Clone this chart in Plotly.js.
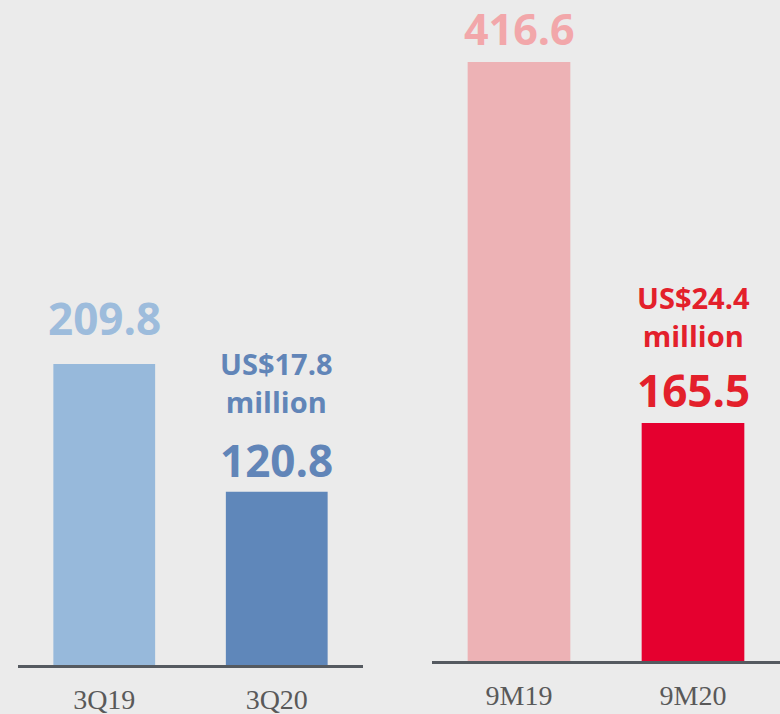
<!DOCTYPE html>
<html><head><meta charset="utf-8">
<script src="https://cdn.plot.ly/plotly-3.0.1.min.js"></script>
<style>body{margin:0;background:#ebebeb}#c{width:780px;height:714px}</style>
</head><body><div id="c"></div>
<script>
const quarterCats = ['3Q19', '3Q20'];
const quarterVals = [209.8, 120.8];
const nineMonthCats = ['9M19', '9M20'];
const nineMonthVals = [416.6, 165.5];
const usdNotes = ['US$17.8', 'US$24.4'];

const quarterBarColors = ['#97b9db', '#5f87ba'];
const quarterTextColors = ['#9dbcdc', '#6185b8'];
const nineBarColors = ['#edb2b5', '#e5002f'];
const nineTextColors = ['#f2a7aa', '#e3202b'];

const valFont = 'Open Sans, Noto Sans, sans-serif';

const traces = [
  {type:'bar', x:quarterCats, y:quarterVals, xaxis:'x', yaxis:'y',
   marker:{color:quarterBarColors}, width:0.59, hoverinfo:'none'},
  {type:'bar', x:nineMonthCats, y:nineMonthVals, xaxis:'x2', yaxis:'y2',
   marker:{color:nineBarColors}, width:0.59, hoverinfo:'none'}
];

function ann(xref, yref, x, y, text, size, color, shift){
  return {xref, yref, x, y, text, showarrow:false, yanchor:'middle', xanchor:'center',
    yshift:shift, font:{family:valFont, size, color, weight:700}};
}
const annotations = [
  ann('x','y',quarterCats[0],quarterVals[0],'<b>'+quarterVals[0].toFixed(1)+'</b>',44,quarterTextColors[0],46),
  ann('x','y',quarterCats[1],quarterVals[1],'<b>'+quarterVals[1].toFixed(1)+'</b>',44,quarterTextColors[1],32),
  ann('x','y',quarterCats[1],quarterVals[1],'<b>'+usdNotes[0]+'<br>million</b>',29,quarterTextColors[1],109),
  ann('x2','y2',nineMonthCats[0],nineMonthVals[0],'<b>'+nineMonthVals[0].toFixed(1)+'</b>',43,nineTextColors[0],33),
  ann('x2','y2',nineMonthCats[1],nineMonthVals[1],'<b>'+nineMonthVals[1].toFixed(1)+'</b>',44,nineTextColors[1],33),
  ann('x2','y2',nineMonthCats[1],nineMonthVals[1],'<b>'+usdNotes[1]+'<br>million</b>',29,nineTextColors[1],107)
];

const tickFont = {family:'Liberation Serif, DejaVu Serif, serif', size:28, color:'#595959'};
const xBase = {type:'category', showline:true, linecolor:'#555a60', linewidth:2.5,
  ticks:'', showgrid:false, zeroline:false, tickfont:tickFont, ticklabelstandoff:8, fixedrange:true};
const yBase = {showgrid:false, zeroline:false, showticklabels:false, showline:false, ticks:'', fixedrange:true};

const layout = {
  width:780, height:714, margin:{l:0,r:0,t:0,b:0},
  paper_bgcolor:'#ebebeb', plot_bgcolor:'rgba(0,0,0,0)', showlegend:false,
  xaxis:Object.assign({}, xBase, {domain:[18/780, 363/780], anchor:'y', range:[-0.5,1.5]}),
  xaxis2:Object.assign({}, xBase, {domain:[432/780, 1], anchor:'y2', range:[-0.5,1.5]}),
  yaxis:Object.assign({}, yBase, {domain:[49/714, 1], anchor:'x', range:[0, 463.4]}),
  yaxis2:Object.assign({}, yBase, {domain:[53/714, 1], anchor:'x2', range:[0, 459.7]}),
  annotations
};
Plotly.newPlot('c', traces, layout, {displayModeBar:false, staticPlot:true});
</script></body></html>
